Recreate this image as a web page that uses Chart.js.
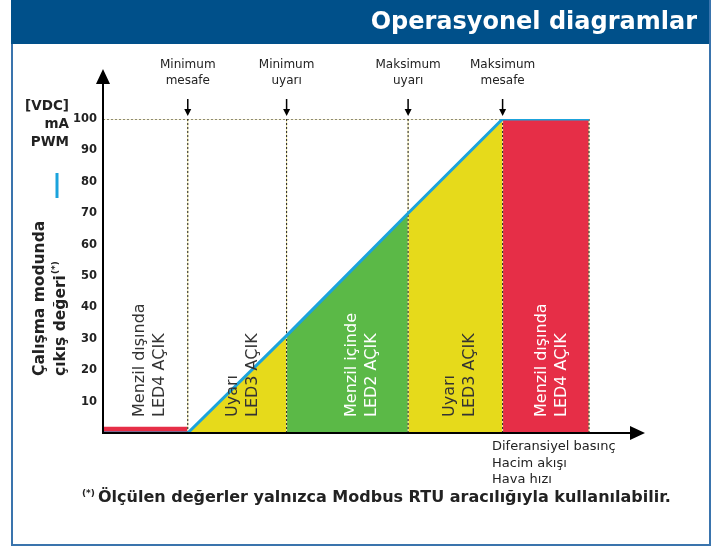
<!DOCTYPE html>
<html>
<head>
<meta charset="utf-8">
<script src="https://cdn.jsdelivr.net/npm/chart.js@4.4.0/dist/chart.umd.min.js"></script>
<style>
  html, body { margin: 0; padding: 0; background: #fff; }
  #chart { display: block; }
</style>
</head>
<body>
<canvas id="chart" width="717" height="549"></canvas>
<script>
// --- data ---

// zone edges along the x axis (distance units, no scale printed)
const zoneEdges = [0, 15.7, 34, 56.5, 74, 90];
// output value at each edge (the blue line)
const outputValues = [0, 0, 31, 70, 100, 100];
// thin red strip under the first zone
const lowStrip = 2;

const zoneLabels = [
  ['Menzil dışında', 'LED4 AÇIK'],
  ['Uyarı', 'LED3 AÇIK'],
  ['Menzil içinde', 'LED2 AÇIK'],
  ['Uyarı', 'LED3 AÇIK'],
  ['Menzil dışında', 'LED4 AÇIK']
];
const edgeLabels = [
  ['Minimum', 'mesafe'],
  ['Minimum', 'uyarı'],
  ['Maksimum', 'uyarı'],
  ['Maksimum', 'mesafe']
];
const yTicks = [10, 20, 30, 40, 50, 60, 70, 80, 90, 100];
const unitLabels = ['[VDC]', 'mA', 'PWM'];
const yTitle = ['Çalışma modunda', 'çıkış değeri'];
const xTitle = ['Diferansiyel basınç', 'Hacim akışı', 'Hava hızı'];
const headerText = 'Operasyonel diagramlar';
const footnoteText = 'Ölçülen değerler yalnızca Modbus RTU aracılığıyla kullanılabilir.';

// --- styles ---
const zoneColors = ['#e62e47', '#e6da1b', '#5bb947', '#e6da1b', '#e62e47'];
const zoneTextColors = ['#333', '#333', '#fff', '#333', '#fff'];
const zoneTextShift = [0, 2, 10, 0, 2];
const lineColor = '#1ba3dc';
const FONT = 'DejaVu Sans';

// --- datasets ---
const datasets = [];

// blue output line (on top)
datasets.push({
  data: zoneEdges.map((x, i) => ({ x: x, y: outputValues[i] })),
  borderColor: lineColor,
  borderWidth: 3,
  pointRadius: 0,
  fill: false,
  order: 0
});

// dotted guide lines at every edge, and along the 100 level
const guides = [];
zoneEdges.slice(1).forEach(x => {
  guides.push({ x: x, y: 0 }, { x: x, y: 100 }, { x: x, y: null });
});
guides.push({ x: 0, y: 100 }, { x: zoneEdges[4], y: 100 });
datasets.push({
  data: guides,
  borderColor: '#222',
  borderWidth: 1,
  borderDash: [2, 2],
  pointRadius: 0,
  spanGaps: false,
  fill: false,
  order: 1
});
datasets.push({
  data: guides,
  borderColor: '#eee4a0',
  borderWidth: 1,
  pointRadius: 0,
  spanGaps: false,
  fill: false,
  order: 1.5
});

// coloured zones
zoneColors.forEach((c, i) => {
  const top0 = i === 0 ? lowStrip : outputValues[i];
  const top1 = i === 0 ? lowStrip : outputValues[i + 1];
  datasets.push({
    data: [{ x: zoneEdges[i], y: top0 }, { x: zoneEdges[i + 1], y: top1 }],
    borderWidth: 0,
    borderColor: 'rgba(0,0,0,0)',
    backgroundColor: c,
    pointRadius: 0,
    fill: 'origin',
    order: 2
  });
});

// --- decorations: frame, header, axes with arrows, texts ---
function arrowHead(ctx, tipX, tipY, dir, len, half) {
  ctx.beginPath();
  if (dir === 'up') {
    ctx.moveTo(tipX, tipY);
    ctx.lineTo(tipX - half, tipY + len);
    ctx.lineTo(tipX + half, tipY + len);
  } else if (dir === 'down') {
    ctx.moveTo(tipX, tipY);
    ctx.lineTo(tipX - half, tipY - len);
    ctx.lineTo(tipX + half, tipY - len);
  } else {
    ctx.moveTo(tipX, tipY);
    ctx.lineTo(tipX - len, tipY - half);
    ctx.lineTo(tipX - len, tipY + half);
  }
  ctx.closePath();
  ctx.fill();
}

const decor = {
  id: 'decor',
  beforeDraw(chart) {
    const ctx = chart.ctx;
    ctx.save();
    ctx.fillStyle = '#fff';
    ctx.fillRect(0, 0, chart.width, chart.height);
    // frame
    ctx.strokeStyle = '#3a74ad';
    ctx.lineWidth = 2;
    ctx.strokeRect(12, -2, 698, 547);
    // header bar
    ctx.fillStyle = '#00508a';
    ctx.fillRect(11, 0, 698, 44);
    ctx.fillStyle = '#fff';
    ctx.font = 'bold 24px "' + FONT + '"';
    ctx.textAlign = 'right';
    ctx.textBaseline = 'middle';
    ctx.fillText(headerText, 697, 23);
    ctx.restore();
  },
  afterDatasetsDraw(chart) {
    const ctx = chart.ctx;
    const xs = chart.scales.x;
    const ys = chart.scales.y;
    const x0 = xs.getPixelForValue(0);
    const y0 = ys.getPixelForValue(0);
    ctx.save();

    // zone texts, rotated
    ctx.font = '16px "' + FONT + '"';
    ctx.textAlign = 'left';
    ctx.textBaseline = 'middle';
    zoneLabels.forEach((lines, i) => {
      const cx = (xs.getPixelForValue(zoneEdges[i]) + xs.getPixelForValue(zoneEdges[i + 1])) / 2 + 4 + zoneTextShift[i];
      ctx.save();
      ctx.translate(cx, y0 - 16);
      ctx.rotate(-Math.PI / 2);
      ctx.fillStyle = zoneTextColors[i];
      ctx.fillText(lines[0], 0, -10);
      ctx.fillText(lines[1], 0, 10);
      ctx.restore();
    });

    // axes
    ctx.fillStyle = '#000';
    ctx.strokeStyle = '#000';
    ctx.lineWidth = 2;
    ctx.beginPath();
    ctx.moveTo(x0, y0 + 1);
    ctx.lineTo(x0, 80);
    ctx.moveTo(x0 - 1, y0);
    ctx.lineTo(632, y0);
    ctx.stroke();
    arrowHead(ctx, x0, 69, 'up', 15, 7);
    arrowHead(ctx, 645, y0, 'right', 15, 7);

    // edge markers with arrows
    ctx.font = '12px "' + FONT + '"';
    ctx.textAlign = 'center';
    edgeLabels.forEach((lines, i) => {
      const px = xs.getPixelForValue(zoneEdges[i + 1]);
      ctx.fillStyle = '#222';
      ctx.fillText(lines[0], px, 65);
      ctx.fillText(lines[1], px, 81);
      ctx.fillStyle = '#000';
      ctx.lineWidth = 1.5;
      ctx.beginPath();
      ctx.moveTo(px, 99);
      ctx.lineTo(px, 110);
      ctx.stroke();
      arrowHead(ctx, px, 116, 'down', 7, 3.5);
    });

    // x axis caption
    ctx.font = '13px "' + FONT + '"';
    ctx.textAlign = 'left';
    ctx.fillStyle = '#222';
    xTitle.forEach((t, i) => ctx.fillText(t, 492, 447 + i * 16.5));

    // unit labels
    ctx.font = 'bold 13.5px "' + FONT + '"';
    ctx.textAlign = 'right';
    unitLabels.forEach((t, i) => ctx.fillText(t, 69, 106 + i * 18));

    // little blue sample of the line
    ctx.strokeStyle = lineColor;
    ctx.lineWidth = 3;
    ctx.beginPath();
    ctx.moveTo(57, 173);
    ctx.lineTo(57, 198);
    ctx.stroke();

    // y axis title, rotated
    ctx.save();
    ctx.translate(0, 376);
    ctx.rotate(-Math.PI / 2);
    ctx.textAlign = 'left';
    ctx.fillStyle = '#222';
    ctx.font = 'bold 15.5px "' + FONT + '"';
    ctx.fillText(yTitle[0], 0, 40);
    ctx.fillText(yTitle[1], 0, 61);
    const w = ctx.measureText(yTitle[1]).width;
    ctx.font = 'bold 9px "' + FONT + '"';
    ctx.fillText('(*)', w + 1, 56);
    ctx.restore();

    // footnote
    ctx.textAlign = 'left';
    ctx.fillStyle = '#222';
    ctx.font = 'bold 9px "' + FONT + '"';
    ctx.fillText('(*)', 82, 494);
    ctx.font = 'bold 16px "' + FONT + '"';
    ctx.fillText(footnoteText, 98, 498);

    ctx.restore();
  }
};

new Chart(document.getElementById('chart'), {
  type: 'line',
  data: { datasets: datasets },
  options: {
    responsive: false,
    animation: false,
    events: [],
    layout: { padding: { left: 63, right: 74, top: 119, bottom: 116 } },
    plugins: { legend: { display: false }, tooltip: { enabled: false } },
    scales: {
      x: {
        type: 'linear',
        min: 0,
        max: 100,
        display: false
      },
      y: {
        type: 'linear',
        min: 0,
        max: 100,
        grid: { display: false, drawTicks: false },
        border: { display: false },
        afterFit(scale) { scale.width = 40; },
        afterBuildTicks(scale) { scale.ticks = yTicks.map(v => ({ value: v })); },
        ticks: {
          padding: 6,
          color: '#222',
          font: { family: FONT, weight: 'bold', size: 11.5 }
        }
      }
    }
  },
  plugins: [decor]
});
</script>
</body>
</html>
